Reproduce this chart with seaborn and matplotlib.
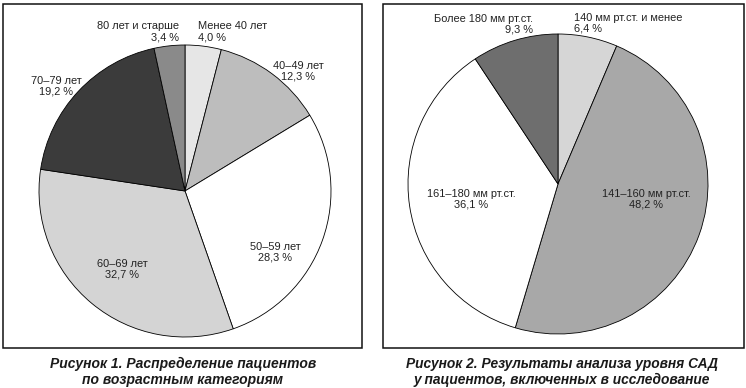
import matplotlib
matplotlib.use('Agg')
import matplotlib.pyplot as plt
from matplotlib.patches import Rectangle
import seaborn as sns

sns.set_style('white')
plt.rcParams['font.family'] = ['Liberation Sans', 'DejaVu Sans']

# Figure 1: age groups
age_labels = ['Менее 40 лет', '40–49 лет', '50–59 лет', '60–69 лет', '70–79 лет', '80 лет и старше']
age_values = [4.0, 12.3, 28.3, 32.7, 19.2, 3.4]
age_colors = ['#e6e6e6', '#bdbdbd', '#ffffff', '#d4d4d4', '#3b3b3b', '#8a8a8a']

# Figure 2: systolic blood pressure
sbp_labels = ['140 мм рт.ст. и менее', '141–160 мм рт.ст.', '161–180 мм рт.ст.', 'Более 180 мм рт.ст.']
sbp_values = [6.4, 48.2, 36.1, 9.3]
sbp_colors = ['#d6d6d6', '#a8a8a8', '#ffffff', '#6e6e6e']

captions = ['Рисунок 1. Распределение пациентов\nпо возрастным категориям',
            'Рисунок 2. Результаты анализа уровня САД\nу пациентов, включенных в исследование']

# label placement (x, y in pie radii, horizontal alignment)
age_label_pos = [(0.09, 1.09, 'left'), (0.774, 0.822, 'center'), (0.616, -0.418, 'center'),
                 (-0.432, -0.534, 'center'), (-0.884, 0.719, 'center'), (-0.041, 1.09, 'right')]
sbp_label_pos = [(0.107, 1.07, 'left'), (0.587, -0.1, 'center'), (-0.58, -0.1, 'center'),
                 (-0.167, 1.065, 'right')]

W, H = 746, 388
fig = plt.figure(figsize=(W / 100, H / 100), dpi=100)


def fmt(v):
    return f'{v:.1f}'.replace('.', ',') + ' %'


def draw_pie(cx, cy, r, values, labels, colors, positions):
    ax = fig.add_axes([(cx - r) / W, (H - cy - r) / H, 2 * r / W, 2 * r / H])
    ax.pie(values, colors=colors, startangle=90, counterclock=False, radius=1,
           wedgeprops=dict(edgecolor='black', linewidth=0.6))
    ax.set_xlim(-1, 1)
    ax.set_ylim(-1, 1)
    ax.axis('off')
    for lab, val, (x, y, ha) in zip(labels, values, positions):
        ax.text(x, y, f'{lab}\n{fmt(val)}', ha=ha, va='center', fontsize=7.9,
                color='#222222', linespacing=1.1, clip_on=False)
    return ax


draw_pie(185, 191, 146, age_values, age_labels, age_colors, age_label_pos)
draw_pie(558, 184, 150, sbp_values, sbp_labels, sbp_colors, sbp_label_pos)

# panel frames
for x0, x1 in [(3, 362), (383, 744)]:
    fig.patches.append(Rectangle((x0 / W, 1 - 348 / H), (x1 - x0) / W, 344 / H,
                                 transform=fig.transFigure, fill=False,
                                 edgecolor='#111111', linewidth=1.1))

fig.text(183 / W, 1 - 372 / H, captions[0], ha='center', va='center', fontsize=10,
         fontweight='bold', fontstyle='italic', color='#1a1a1a', linespacing=1.2)
fig.text(562 / W, 1 - 372 / H, captions[1], ha='center', va='center', fontsize=9.9,
         fontweight='bold', fontstyle='italic', color='#1a1a1a', linespacing=1.2)

fig.savefig('out.png', dpi=100, facecolor='white')
